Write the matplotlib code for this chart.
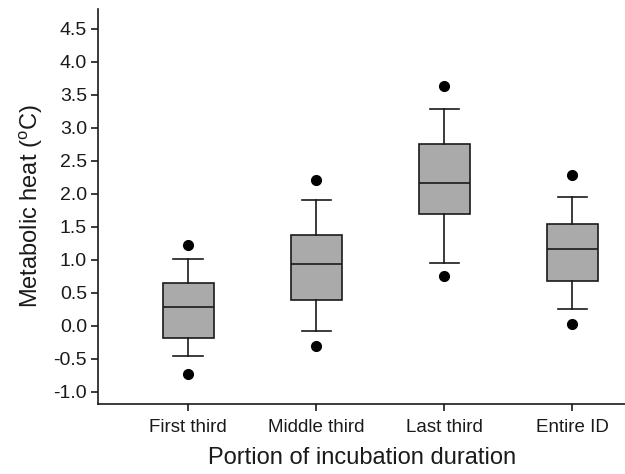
import matplotlib
matplotlib.use("Agg")
import matplotlib.pyplot as plt

plt.rcParams['font.family'] = ['Liberation Sans', 'DejaVu Sans']

# Box statistics
categories = ['First third', 'Middle third', 'Last third', 'Entire ID']
q1 = [-0.19, 0.40, 1.69, 0.68]
med = [0.28, 0.94, 2.165, 1.17]
q3 = [0.65, 1.375, 2.76, 1.54]
whislo = [-0.455, -0.07, 0.96, 0.25]
whishi = [1.01, 1.90, 3.28, 1.95]
fliers = [[-0.73, 1.23], [-0.31, 2.21], [0.75, 3.64], [0.025, 2.29]]

stats = []
for i, name in enumerate(categories):
    stats.append(dict(label=name, q1=q1[i], med=med[i], q3=q3[i],
                      whislo=whislo[i], whishi=whishi[i], fliers=fliers[i]))

fig = plt.figure(figsize=(6.25, 4.74), dpi=100)
ax = fig.add_axes([0.157, 0.148, 0.843, 0.833])

lw = 1.2
ax.bxp(stats, positions=[1, 2, 3, 4], widths=0.4, patch_artist=True,
       boxprops=dict(facecolor='#aaaaaa', edgecolor='#1a1a1a', linewidth=lw),
       medianprops=dict(color='#1a1a1a', linewidth=lw),
       whiskerprops=dict(color='#1a1a1a', linewidth=lw),
       capprops=dict(color='#1a1a1a', linewidth=lw),
       capwidths=0.23,
       flierprops=dict(marker='o', markerfacecolor='black', markeredgecolor='black',
                       markersize=7, linestyle='none'))

ax.set_xlim(0.297, 4.41)
ax.set_ylim(-1.18, 4.8)
ax.set_yticks([-1.0, -0.5, 0.0, 0.5, 1.0, 1.5, 2.0, 2.5, 3.0, 3.5, 4.0, 4.5])
ax.set_yticklabels([f'{v:.1f}' for v in ax.get_yticks()])
ax.set_xticks([1, 2, 3, 4])
ax.set_xticklabels(categories)

for s in ['top', 'right']:
    ax.spines[s].set_visible(False)
for s in ['left', 'bottom']:
    ax.spines[s].set_linewidth(1.2)
    ax.spines[s].set_color('#1a1a1a')

ax.tick_params(axis='both', width=1.2, color='#1a1a1a', labelcolor='#1a1a1a')
ax.tick_params(axis='y', labelsize=14, length=5, pad=3)
ax.tick_params(axis='x', labelsize=13.5, length=5, pad=6)

ax.set_xlabel('Portion of incubation duration', fontsize=17, color='#1a1a1a', labelpad=8)
ax.set_ylabel(r'Metabolic heat ($\mathregular{^{o}}$C)', fontsize=17, color='#1a1a1a', labelpad=6)

fig.savefig('out.png', dpi=100)
